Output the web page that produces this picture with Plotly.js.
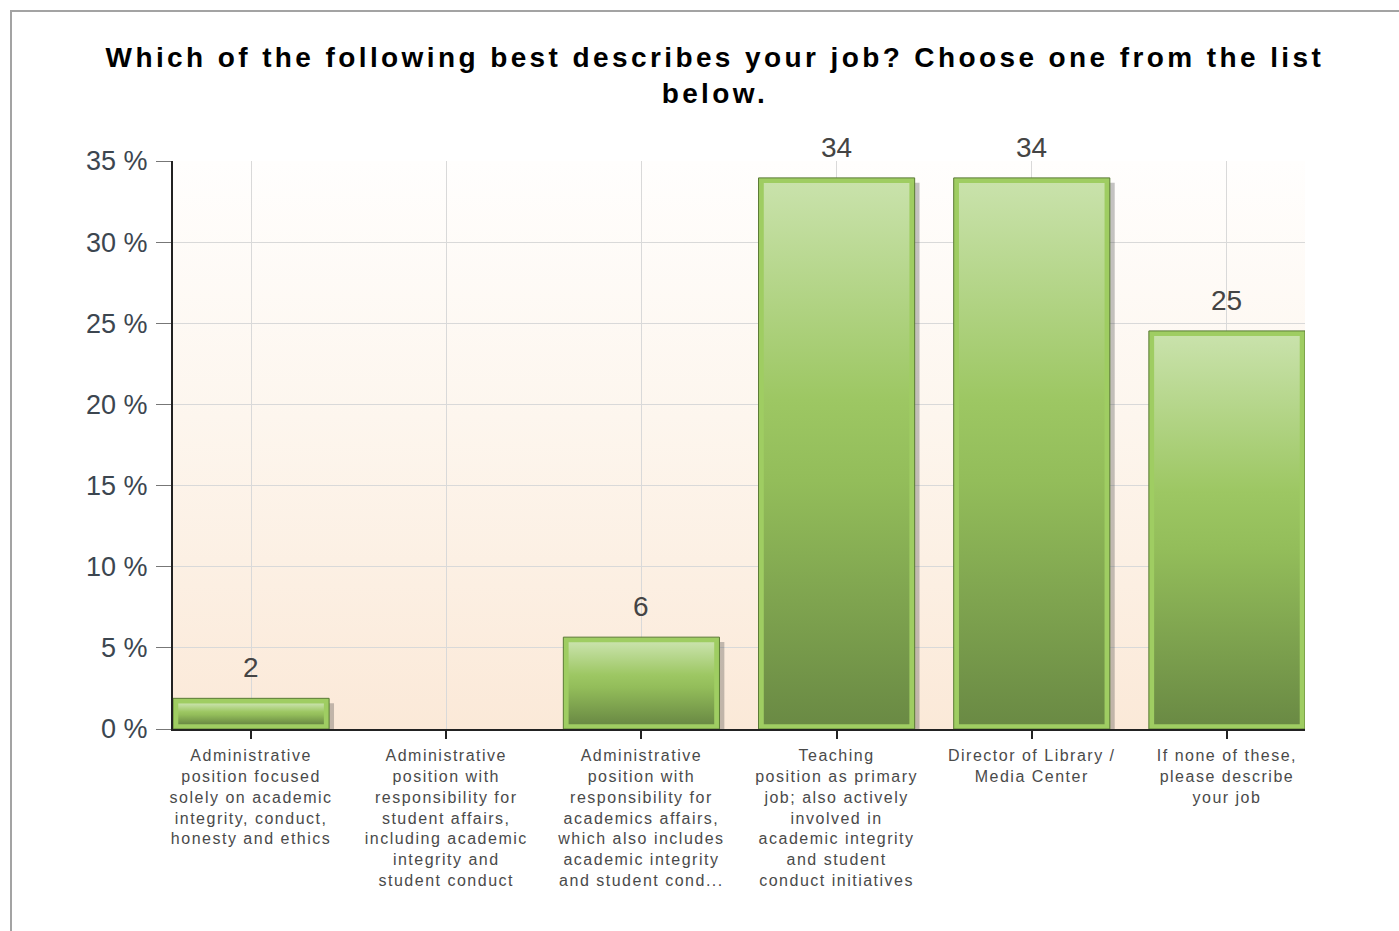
<!DOCTYPE html>
<html>
<head>
<meta charset="utf-8">
<script src="https://cdn.plot.ly/plotly-3.0.1.min.js"></script>
<style>
  html, body { margin: 0; padding: 0; background: #ffffff; overflow: hidden; }
  #frame { position: absolute; left: 10px; top: 10px; width: 1420px; height: 960px;
           border-left: 2px solid #a3a3a3; border-top: 2px solid #a3a3a3; }
  #plotbg { position: absolute; left: 173px; top: 161px; width: 1132px; height: 568px;
            background: linear-gradient(to bottom, #fffefd 0%, #fdf6ee 45%, #fbe9d8 100%); }
  #chart { position: absolute; left: 0; top: 0; width: 1399px; height: 931px; }
  .gtitle { letter-spacing: 3.4px; }
  .xtick text { letter-spacing: 1.5px; }
</style>
</head>
<body>
<div id="frame"></div>
<div id="plotbg"></div>
<div id="chart"></div>
<script>
// ---- data ----
const categories = [
  "Administrative<br>position focused<br>solely on academic<br>integrity, conduct,<br>honesty and ethics",
  "Administrative<br>position with<br>responsibility for<br>student affairs,<br>including academic<br>integrity and<br>student conduct",
  "Administrative<br>position with<br>responsibility for<br>academics affairs,<br>which also includes<br>academic integrity<br>and student cond...",
  "Teaching<br>position as primary<br>job; also actively<br>involved in<br>academic integrity<br>and student<br>conduct initiatives",
  "Director of Library /<br>Media Center",
  "If none of these,<br>please describe<br>your job"
];
const percentValues = [1.89, 0, 5.66, 33.96, 33.96, 24.53];
const valueLabels = ["2", "", "6", "34", "34", "25"];

// ---- styling helpers ----
const idx = categories.map((_, i) => i);
const barWidth = 0.8;
const insetX = 0.027, insetTop = 0.32, insetBottom = 0.3;
const hasBar = percentValues.map(v => v > 0);

const traces = [];
// shadow
traces.push({
  type: 'bar', x: idx.map(i => i + 0.025), y: percentValues, base: -0.3,
  width: barWidth,
  marker: { color: hasBar.map(h => h ? 'rgba(60,60,60,0.3)' : 'rgba(0,0,0,0)'), line: { width: 0 } },
  hoverinfo: 'skip', showlegend: false
});
// main bar (outer light-green frame)
traces.push({
  type: 'bar', x: idx, y: percentValues, width: barWidth,
  marker: { color: '#9fcd62', line: { color: '#5a7a34', width: hasBar.map(h => h ? 1 : 0) } },
  hoverinfo: 'skip', showlegend: false
});
// inner gradient fills
percentValues.forEach((v, i) => {
  if (v <= 0) return;
  const x0 = i - barWidth / 2 + insetX, x1 = i + barWidth / 2 - insetX;
  const y0 = insetBottom, y1 = v - insetTop;
  traces.push({
    type: 'scatter', mode: 'lines', fill: 'toself',
    x: [x0, x1, x1, x0, x0], y: [y0, y0, y1, y1, y0],
    line: { width: 0 },
    fillgradient: {
      type: 'vertical',
      colorscale: [[0, '#6a8a44'], [0.45, '#93bd5a'], [0.6, '#9dc763'], [1, '#c9e2ab']]
    },
    hoverinfo: 'skip', showlegend: false
  });
});

const annotations = percentValues.map((v, i) => v > 0 ? ({
  x: i, y: v, xref: 'x', yref: 'y', text: valueLabels[i], showarrow: false,
  yanchor: 'bottom', yshift: 13,
  font: { family: 'Liberation Sans, Arial, sans-serif', size: 28, color: '#444444' }
}) : null).filter(a => a);

const layout = {
  width: 1399, height: 931,
  margin: { l: 173, r: 94, t: 161, b: 202 },
  paper_bgcolor: 'rgba(0,0,0,0)', plot_bgcolor: 'rgba(0,0,0,0)',
  barmode: 'overlay',
  title: {
    text: 'Which of the following best describes your job? Choose one from the list<br>below.',
    font: { family: 'Liberation Sans, Arial, sans-serif', size: 28, color: '#000000', weight: 'bold' },
    xref: 'container', x: 0.511, xanchor: 'center',
    yref: 'container', y: 0.928, yanchor: 'top'
  },
  xaxis: {
    range: [-0.4, 5.4], tickmode: 'array', tickvals: idx, ticktext: categories,
    showgrid: true, gridcolor: '#d9d9d9', gridwidth: 1, zeroline: false,
    ticks: 'outside', ticklen: 8, tickwidth: 2, tickcolor: '#222222',
    ticklabelstandoff: 3,
    showline: true, linecolor: '#222222', linewidth: 2,
    tickfont: { family: 'Liberation Sans, Arial, sans-serif', size: 16, color: '#4a4a4a' },
    tickangle: 0, fixedrange: true
  },
  yaxis: {
    range: [0, 35], tickmode: 'linear', tick0: 0, dtick: 5, ticksuffix: ' %',
    showgrid: true, gridcolor: '#d9d9d9', gridwidth: 1, zeroline: false,
    ticks: 'outside', ticklen: 15, tickwidth: 1, tickcolor: '#777777',
    ticklabelstandoff: 3,
    showline: true, linecolor: '#222222', linewidth: 2,
    tickfont: { family: 'Liberation Sans, Arial, sans-serif', size: 27, color: '#3c4650' },
    fixedrange: true
  },
  annotations: annotations,
  showlegend: false
};

Plotly.newPlot('chart', traces, layout, { displayModeBar: false, staticPlot: true });
</script>
</body>
</html>
